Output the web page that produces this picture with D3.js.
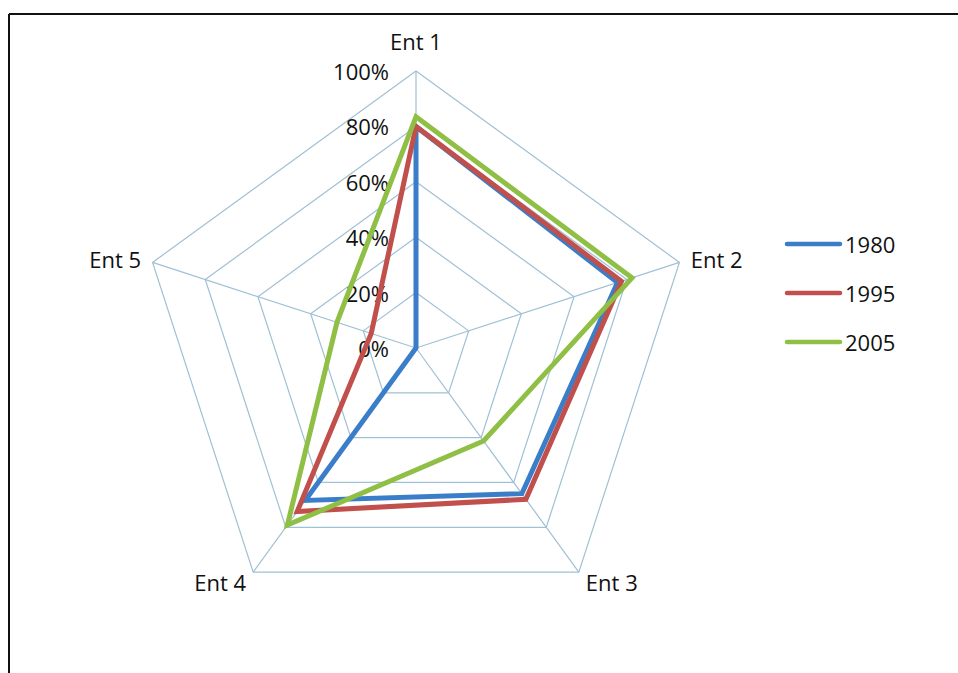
<!DOCTYPE html>
<html>
<head>
<meta charset="utf-8">
<script src="https://cdn.jsdelivr.net/npm/d3@7"></script>
<style>
  html, body { margin: 0; padding: 0; background: #fff; }
  svg { display: block; }
  text { font-family: "Open Sans", "Noto Sans", sans-serif; fill: #111; }
</style>
</head>
<body>
<svg id="chart" width="958" height="673"></svg>
<script>
// ---- data ----
const categories = ["Ent 1", "Ent 2", "Ent 3", "Ent 4", "Ent 5"];
const seriesNames = ["1980", "1995", "2005"];
const values1980 = [0.80, 0.765, 0.65, 0.68, 0.00];
const values1995 = [0.80, 0.78, 0.675, 0.73, 0.17];
const values2005 = [0.835, 0.82, 0.415, 0.79, 0.30];
const tickValues = [0, 0.2, 0.4, 0.6, 0.8, 1.0];
const seriesColors = ["#3a7dc8", "#c1504d", "#8fbf45"];

// ---- layout ----
const svg = d3.select("#chart");
const W = 958, H = 673;
const cx = 416, cy = 348, R = 277;
const fontSize = 22;

// frame
svg.append("line").attr("x1", 9).attr("y1", 14).attr("x2", W).attr("y2", 14)
  .attr("stroke", "#111").attr("stroke-width", 2);
svg.append("line").attr("x1", 9).attr("y1", 14).attr("x2", 9).attr("y2", H)
  .attr("stroke", "#111").attr("stroke-width", 2);

const r = d3.scaleLinear().domain([0, 1]).range([0, R]);
const angle = d3.scalePoint().domain(categories).range([0, 2 * Math.PI * (categories.length - 1) / categories.length]);

const g = svg.append("g").attr("transform", `translate(${cx},${cy})`);
const pt = (cat, v) => {
  const a = angle(cat);
  return [Math.sin(a) * r(v), -Math.cos(a) * r(v)];
};

const gridColor = "#9fc1d4";
// rings
const ringLine = d3.line().curve(d3.curveLinearClosed);
tickValues.filter(t => t > 0).forEach(t => {
  g.append("path")
    .attr("d", ringLine(categories.map(c => pt(c, t))))
    .attr("fill", "none").attr("stroke", gridColor).attr("stroke-width", 1.2);
});
// spokes
categories.forEach(c => {
  const p = pt(c, 1);
  g.append("line").attr("x1", 0).attr("y1", 0).attr("x2", p[0]).attr("y2", p[1])
    .attr("stroke", gridColor).attr("stroke-width", 1.2);
});

// tick labels
tickValues.forEach(t => {
  g.append("text")
    .attr("x", -27).attr("y", -r(t))
    .attr("text-anchor", "end").attr("dominant-baseline", "central")
    .attr("font-size", fontSize)
    .text(d3.format(".0%")(t));
});

// category labels
categories.forEach(c => {
  const a = angle(c);
  const s = Math.sin(a), co = Math.cos(a);
  const p = pt(c, 1);
  let x = p[0] + s * 12, y = p[1] - co * 12;
  let anchor = Math.abs(s) < 0.1 ? "middle" : (s > 0 ? "start" : "end");
  if (co > 0.9) y -= 18;
  g.append("text")
    .attr("x", x).attr("y", y)
    .attr("text-anchor", anchor).attr("dominant-baseline", "central")
    .attr("font-size", fontSize)
    .text(c);
});

// series
const allSeries = [values1980, values1995, values2005];
const radial = d3.lineRadial()
  .angle((d, i) => angle(categories[i]))
  .radius(d => r(d))
  .curve(d3.curveLinearClosed);
allSeries.forEach((vals, i) => {
  g.append("path")
    .attr("d", radial(vals))
    .attr("fill", "none")
    .attr("stroke", seriesColors[i])
    .attr("stroke-width", 5)
    .attr("stroke-linejoin", "miter");
});

// legend
const legendY = d3.scalePoint().domain(seriesNames).range([244, 342]);
const lg = svg.append("g");
seriesNames.forEach((n, i) => {
  const y = legendY(n);
  lg.append("line").attr("x1", 787).attr("x2", 840).attr("y1", y).attr("y2", y)
    .attr("stroke", seriesColors[i]).attr("stroke-width", 4.5).attr("stroke-linecap", "round");
  lg.append("text").attr("x", 845).attr("y", y)
    .attr("dominant-baseline", "central").attr("font-size", fontSize)
    .text(n);
});
</script>
</body>
</html>
